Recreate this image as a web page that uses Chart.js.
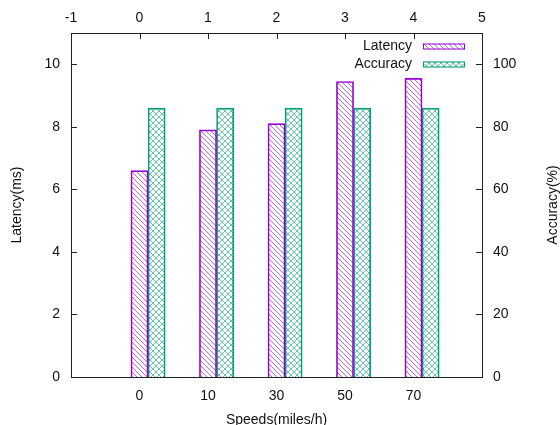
<!DOCTYPE html>
<html>
<head>
<meta charset="utf-8">
<script src="https://cdn.jsdelivr.net/npm/chart.js@4.4.0/dist/chart.umd.min.js"></script>
<style>
  html, body { margin: 0; padding: 0; background: #fff; }
  #wrap { width: 560px; height: 425px; position: relative; }
</style>
</head>
<body>
<div id="wrap"><canvas id="speedChart"></canvas></div>
<script>
const categories = ['0', '10', '30', '50', '70'];
const latency = [6.6, 7.9, 8.1, 9.45, 9.55];
const accuracy = [86, 86, 86, 86, 86];

const PURPLE = '#9400d3';
const GREEN = '#009e73';
const FONT = "'Liberation Sans', Arial, sans-serif";

Chart.defaults.font.family = FONT;
Chart.defaults.font.size = 14;
Chart.defaults.color = '#111';

// small hatch tiles like gnuplot fill patterns
function hatch(color, size, dirs) {
    const c = document.createElement('canvas');
    c.width = size; c.height = size;
    const g = c.getContext('2d');
    g.strokeStyle = color;
    g.globalAlpha = 0.6;
    g.lineWidth = 1;
    for (let k = -1; k <= 1; k++) {
        if (dirs.includes('\\')) {
            g.beginPath(); g.moveTo(k * size, 0); g.lineTo(k * size + size, size); g.stroke();
        }
        if (dirs.includes('/')) {
            g.beginPath(); g.moveTo(k * size, size); g.lineTo(k * size + size, 0); g.stroke();
        }
    }
    return g.createPattern(c, 'repeat');
}

const latencyFill = hatch(PURPLE, 5, '\\');
const accuracyFill = hatch(GREEN, 6, '\\/');

const keepEven = step => scale => {
    scale.ticks = scale.ticks.filter(t => Math.abs(t.value % step) < 1e-9);
};

// inward tick marks + key + right axis title
const extras = {
    id: 'extras',
    afterDraw(chart) {
        const { ctx, chartArea: a, scales } = chart;
        ctx.save();
        ctx.strokeStyle = '#222';
        ctx.lineWidth = 1;
        const len = 6;
        scales.y.ticks.forEach(t => {
            const y = Math.round(scales.y.getPixelForValue(t.value)) + 0.5;
            ctx.beginPath(); ctx.moveTo(a.left, y); ctx.lineTo(a.left + len, y); ctx.stroke();
        });
        scales.y2.ticks.forEach(t => {
            const y = Math.round(scales.y2.getPixelForValue(t.value)) + 0.5;
            ctx.beginPath(); ctx.moveTo(a.right, y); ctx.lineTo(a.right - len, y); ctx.stroke();
        });
        scales.x2.ticks.forEach(t => {
            const x = Math.round(scales.x2.getPixelForValue(t.value)) + 0.5;
            ctx.beginPath(); ctx.moveTo(x, a.top); ctx.lineTo(x, a.top + len); ctx.stroke();
        });

        // key
        const keys = [
            { label: 'Latency', fill: latencyFill, color: PURPLE },
            { label: 'Accuracy', fill: accuracyFill, color: GREEN }
        ];
        ctx.font = '14px ' + FONT;
        ctx.textAlign = 'right';
        ctx.textBaseline = 'middle';
        keys.forEach((k, i) => {
            const y = a.top + 13.5 + i * 18;
            ctx.fillStyle = '#111';
            ctx.fillText(k.label, a.right - 70, y);
            ctx.fillStyle = k.fill;
            ctx.fillRect(a.right - 59, y - 3, 42, 6);
            ctx.strokeStyle = k.color;
            ctx.strokeRect(a.right - 58.5, y - 2.5, 41, 5);
        });

        // right axis title, reading bottom to top
        ctx.fillStyle = '#111';
        ctx.textAlign = 'center';
        ctx.translate(553, (a.top + a.bottom) / 2);
        ctx.rotate(-Math.PI / 2);
        ctx.fillText('Accuracy(%)', 0, 0);
        ctx.restore();
    }
};

const axisBorder = { display: true, color: '#222', width: 1 };
const noGrid = { display: false, drawTicks: false };

new Chart(document.getElementById('speedChart'), {
    type: 'bar',
    data: {
        datasets: [{
            label: 'Latency',
            data: latency.map((v, i) => ({ x: i, y: v })),
            backgroundColor: latencyFill,
            borderColor: PURPLE,
            borderWidth: 1,
            yAxisID: 'y'
        }, {
            label: 'Accuracy',
            data: accuracy.map((v, i) => ({ x: i + 0.25, y: v })),
            backgroundColor: accuracyFill,
            borderColor: GREEN,
            borderWidth: 1,
            yAxisID: 'y2'
        }]
    },
    options: {
        responsive: true,
        maintainAspectRatio: false,
        animation: false,
        grouped: false,
        barPercentage: 1,
        categoryPercentage: 1,
        layout: { padding: 0 },
        plugins: {
            legend: { display: false },
            tooltip: { enabled: false }
        },
        scales: {
            x: {
                type: 'linear', position: 'bottom', min: -1, max: 5, offset: false,
                grid: noGrid, border: axisBorder,
                ticks: {
                    stepSize: 1, padding: 11, maxRotation: 0, autoSkip: false,
                    callback: v => categories[v] !== undefined ? categories[v] : ''
                },
                title: { display: true, text: 'Speeds(miles/h)', padding: { top: 0, bottom: -4 } },
                afterFit: s => { s.height = 48; }
            },
            x2: {
                type: 'linear', position: 'top', min: -1, max: 5, offset: false,
                grid: noGrid, border: axisBorder,
                ticks: { stepSize: 1, padding: 6, maxRotation: 0, autoSkip: false },
                afterFit: s => { s.height = 33; }
            },
            y: {
                position: 'left', min: 0, max: 11,
                grid: noGrid, border: axisBorder,
                ticks: { stepSize: 2, padding: 11 },
                afterBuildTicks: keepEven(2),
                title: { display: true, text: 'Latency(ms)', padding: { top: 9, bottom: 0 } },
                afterFit: s => { s.width = 71; }
            },
            y2: {
                position: 'right', min: 0, max: 110,
                grid: noGrid, border: axisBorder,
                ticks: { stepSize: 20, padding: 11 },
                afterBuildTicks: keepEven(20),
                afterFit: s => { s.width = 78; }
            }
        }
    },
    plugins: [extras]
});
</script>
</body>
</html>
